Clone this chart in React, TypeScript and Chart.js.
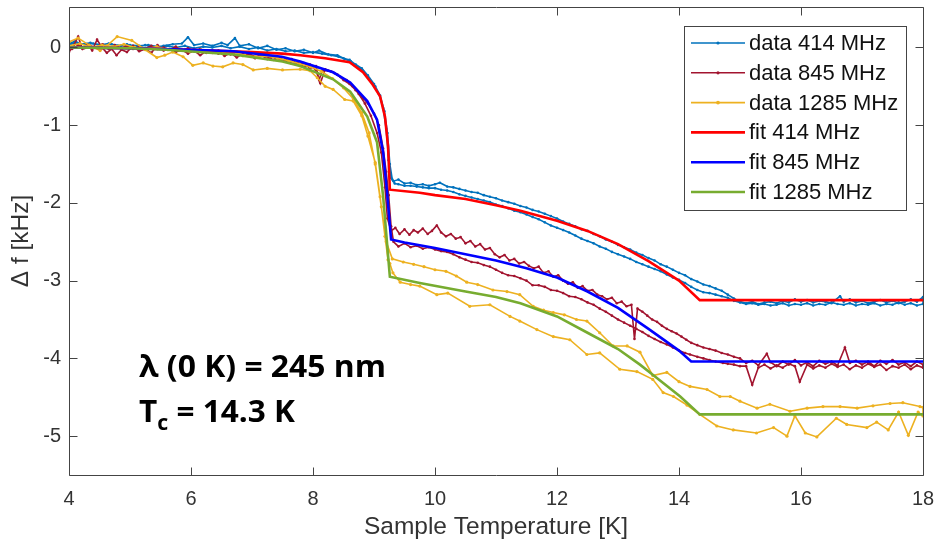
import React, { useEffect, useRef } from 'react';
import { Chart, registerables } from 'chart.js';

Chart.register(...registerables);

// ---------- axes ----------
const xTickValues = [4, 6, 8, 10, 12, 14, 16, 18];
const yTickValues = [-5, -4, -3, -2, -1, 0];
const xTitle = 'Sample Temperature [K]';
const yTitle = 'Δ f [kHz]';
const seriesLabels = ['data 414 MHz', 'data 845 MHz', 'data 1285 MHz', 'fit 414 MHz', 'fit 845 MHz', 'fit 1285 MHz'];
const noteLine1 = 'λ (0 K) = 245 nm';
const noteLine2 = ['T', 'c', ' = 14.3 K'];

// ---------- data 414 MHz (two sweeps) [T (K), Δf (kHz)] ----------
const data414Up: number[][] = [[4.0,0.05],[4.1,0.08],[4.2,0.04],[4.35,0.06],[4.5,0.03],[4.65,0.05],[4.8,0.02],[4.95,0.04],[5.1,0.01],[5.25,0.03],[5.4,0.0],[5.55,0.02],[5.7,0.04],[5.85,0.05],[5.95,0.13],[6.05,0.03],[6.2,0.05],[6.35,0.02],[6.5,0.06],[6.6,0.03],[6.72,0.12],[6.8,0.02],[6.95,0.04],[7.1,-0.01],[7.25,0.02],[7.4,-0.03],[7.55,-0.01],[7.7,-0.05],[7.85,-0.03],[8.0,-0.07],[8.1,-0.04],[8.25,-0.09],[8.4,-0.1],[8.5,-0.14],[8.6,-0.16],[8.7,-0.22],[8.8,-0.27],[8.9,-0.36],[9.0,-0.47],[9.08,-0.6],[9.15,-0.78],[9.2,-1.05],[9.24,-1.45],[9.28,-1.68],[9.32,-1.72],[9.4,-1.7],[9.5,-1.75],[9.6,-1.74],[9.7,-1.77],[9.8,-1.76],[9.9,-1.78],[10.0,-1.76],[10.08,-1.74],[10.2,-1.79],[10.3,-1.8],[10.4,-1.82],[10.5,-1.84],[10.6,-1.86],[10.7,-1.87],[10.8,-1.9],[10.9,-1.92],[11.0,-1.94],[11.1,-1.97],[11.2,-1.99],[11.3,-2.01],[11.4,-2.04],[11.5,-2.06],[11.6,-2.09],[11.7,-2.11],[11.8,-2.14],[11.9,-2.17],[12.0,-2.2],[12.1,-2.24],[12.2,-2.27],[12.3,-2.3],[12.4,-2.34],[12.5,-2.36],[12.6,-2.4],[12.7,-2.43],[12.8,-2.47],[12.9,-2.5],[13.0,-2.54],[13.1,-2.57],[13.2,-2.6],[13.3,-2.64],[13.4,-2.67],[13.5,-2.71],[13.6,-2.74],[13.7,-2.79],[13.8,-2.82],[13.9,-2.86],[14.0,-2.9],[14.1,-2.93],[14.2,-2.98],[14.3,-3.01],[14.4,-3.05],[14.5,-3.07],[14.6,-3.1],[14.7,-3.13],[14.8,-3.18],[14.9,-3.23],[15.0,-3.27],[15.1,-3.29],[15.2,-3.27],[15.3,-3.3],[15.4,-3.28],[15.5,-3.27],[15.6,-3.29],[15.7,-3.26],[15.8,-3.28],[15.9,-3.24],[16.0,-3.27],[16.1,-3.25],[16.2,-3.28],[16.3,-3.26],[16.4,-3.27],[16.5,-3.29],[16.64,-3.2],[16.7,-3.27],[16.8,-3.24],[16.9,-3.28],[17.0,-3.26],[17.1,-3.29],[17.2,-3.27],[17.3,-3.25],[17.4,-3.28],[17.5,-3.26],[17.6,-3.29],[17.7,-3.27],[17.8,-3.24],[17.9,-3.27],[18.0,-3.21]];
const data414Down: number[][] = [[18.0,-3.3],[17.9,-3.32],[17.8,-3.29],[17.7,-3.31],[17.6,-3.28],[17.5,-3.31],[17.4,-3.3],[17.3,-3.32],[17.2,-3.29],[17.1,-3.31],[17.0,-3.3],[16.9,-3.32],[16.8,-3.29],[16.7,-3.31],[16.6,-3.3],[16.5,-3.28],[16.4,-3.31],[16.3,-3.3],[16.2,-3.32],[16.1,-3.29],[16.0,-3.31],[15.9,-3.3],[15.8,-3.32],[15.7,-3.29],[15.6,-3.31],[15.5,-3.32],[15.4,-3.3],[15.3,-3.31],[15.2,-3.29],[15.1,-3.3],[15.0,-3.28],[14.9,-3.26],[14.8,-3.22],[14.7,-3.2],[14.6,-3.18],[14.5,-3.16],[14.4,-3.15],[14.3,-3.12],[14.2,-3.08],[14.1,-3.03],[14.0,-2.99],[13.9,-2.96],[13.8,-2.92],[13.7,-2.88],[13.6,-2.85],[13.5,-2.82],[13.4,-2.79],[13.3,-2.76],[13.2,-2.72],[13.1,-2.69],[13.0,-2.66],[12.9,-2.63],[12.8,-2.59],[12.7,-2.56],[12.6,-2.52],[12.5,-2.49],[12.4,-2.46],[12.3,-2.42],[12.2,-2.38],[12.1,-2.35],[12.0,-2.32],[11.9,-2.29],[11.8,-2.25],[11.7,-2.21],[11.6,-2.18],[11.5,-2.15],[11.4,-2.12],[11.3,-2.1],[11.2,-2.07],[11.1,-2.04],[11.0,-2.02],[10.9,-1.99],[10.8,-1.97],[10.7,-1.95],[10.6,-1.93],[10.5,-1.91],[10.4,-1.89],[10.3,-1.86],[10.2,-1.84],[10.1,-1.83],[10.0,-1.81],[9.9,-1.81],[9.8,-1.8],[9.7,-1.79],[9.6,-1.78],[9.5,-1.78],[9.4,-1.76],[9.34,-1.75],[9.3,-1.7],[9.26,-1.5],[9.22,-1.1],[9.17,-0.82],[9.1,-0.62],[9.02,-0.5],[8.92,-0.4],[8.82,-0.3],[8.72,-0.24],[8.62,-0.18],[8.52,-0.15],[8.42,-0.12],[8.3,-0.1],[8.15,-0.08],[8.0,-0.06],[7.85,-0.07],[7.7,-0.04],[7.55,-0.05],[7.4,-0.02],[7.25,-0.04],[7.1,0.0],[6.95,-0.02],[6.8,0.01],[6.65,-0.01],[6.5,0.02],[6.35,0.0],[6.2,0.01],[6.05,-0.01],[5.9,0.02],[5.75,0.0],[5.6,0.02],[5.45,0.01],[5.3,0.03],[5.15,0.02],[5.0,0.03],[4.85,0.02],[4.7,0.04],[4.55,0.03],[4.4,0.05],[4.25,0.04],[4.1,0.06],[4.0,0.03]];

// ---------- data 845 MHz ----------
const data845Up: number[][] = [[4.0,-0.06],[4.08,0.03],[4.15,0.14],[4.22,-0.02],[4.3,0.04],[4.38,-0.04],[4.46,0.1],[4.54,0.0],[4.62,-0.07],[4.7,-0.02],[4.78,-0.1],[4.86,-0.03],[4.95,-0.06],[5.05,0.02],[5.15,-0.05],[5.25,-0.02],[5.35,-0.07],[5.45,0.03],[5.55,-0.04],[5.65,-0.02],[5.75,-0.06],[5.85,-0.03],[5.95,-0.08],[6.05,-0.04],[6.15,-0.1],[6.25,-0.05],[6.35,-0.07],[6.45,-0.04],[6.55,-0.11],[6.65,-0.07],[6.75,-0.13],[6.85,-0.08],[6.95,-0.1],[7.05,-0.14],[7.15,-0.09],[7.25,-0.12],[7.35,-0.16],[7.45,-0.13],[7.55,-0.18],[7.65,-0.15],[7.75,-0.22],[7.85,-0.2],[7.95,-0.27],[8.05,-0.24],[8.1,-0.42],[8.15,-0.3],[8.25,-0.3],[8.35,-0.33],[8.45,-0.38],[8.55,-0.42],[8.65,-0.5],[8.75,-0.6],[8.85,-0.72],[8.95,-0.88],[9.05,-1.1],[9.12,-1.35],[9.18,-1.8],[9.22,-2.2],[9.28,-2.36],[9.35,-2.32],[9.42,-2.4],[9.5,-2.34],[9.58,-2.41],[9.65,-2.35],[9.72,-2.38],[9.8,-2.33],[9.88,-2.4],[9.95,-2.36],[10.03,-2.29],[10.1,-2.38],[10.18,-2.43],[10.26,-2.4],[10.34,-2.46],[10.42,-2.44],[10.5,-2.52],[10.58,-2.49],[10.66,-2.56],[10.74,-2.53],[10.82,-2.6],[10.9,-2.58],[10.98,-2.66],[11.06,-2.7],[11.14,-2.67],[11.22,-2.74],[11.3,-2.72],[11.38,-2.78],[11.46,-2.76],[11.54,-2.81],[11.62,-2.84],[11.7,-2.82],[11.78,-2.9],[11.86,-2.88],[11.94,-2.95],[12.02,-2.93],[12.1,-3.0],[12.18,-3.04],[12.26,-3.02],[12.34,-3.09],[12.42,-3.07],[12.5,-3.13],[12.58,-3.12],[12.66,-3.18],[12.74,-3.2],[12.82,-3.24],[12.9,-3.22],[12.98,-3.29],[13.06,-3.27],[13.14,-3.33],[13.22,-3.31],[13.27,-3.75],[13.32,-3.36],[13.4,-3.4],[13.48,-3.45],[13.56,-3.5],[13.64,-3.53],[13.72,-3.58],[13.8,-3.62],[13.88,-3.65],[13.96,-3.68],[14.04,-3.72],[14.12,-3.76],[14.2,-3.8],[14.3,-3.83],[14.4,-3.86],[14.5,-3.88],[14.6,-3.9],[14.7,-3.93],[14.8,-3.95],[14.9,-3.98],[15.0,-4.0],[15.1,-4.06],[15.2,-4.03],[15.3,-4.09],[15.44,-3.94],[15.5,-4.05],[15.6,-4.1],[15.7,-4.04],[15.8,-4.08],[15.9,-4.02],[16.0,-4.09],[16.1,-4.05],[16.2,-4.1],[16.3,-4.03],[16.4,-4.07],[16.5,-4.04],[16.6,-4.09],[16.72,-3.86],[16.8,-4.06],[16.9,-4.03],[17.0,-4.08],[17.1,-4.04],[17.2,-4.1],[17.3,-4.03],[17.4,-4.07],[17.5,-4.02],[17.6,-4.08],[17.7,-4.05],[17.8,-4.1],[17.9,-4.04],[18.0,-4.08]];
const data845Down: number[][] = [[18.0,-4.12],[17.9,-4.09],[17.8,-4.14],[17.7,-4.08],[17.6,-4.12],[17.5,-4.1],[17.4,-4.15],[17.3,-4.08],[17.2,-4.11],[17.1,-4.07],[17.0,-4.12],[16.9,-4.09],[16.8,-4.14],[16.7,-4.08],[16.6,-4.11],[16.5,-4.07],[16.4,-4.12],[16.3,-4.09],[16.2,-4.13],[16.1,-4.08],[15.98,-4.3],[15.9,-4.1],[15.8,-4.07],[15.7,-4.12],[15.6,-4.09],[15.5,-4.13],[15.4,-4.08],[15.3,-4.12],[15.2,-4.34],[15.1,-4.1],[15.0,-4.1],[14.9,-4.08],[14.8,-4.07],[14.72,-4.06],[14.6,-4.04],[14.5,-4.02],[14.4,-4.0],[14.3,-3.98],[14.18,-3.95],[14.1,-3.93],[14.0,-3.9],[13.9,-3.86],[13.8,-3.82],[13.7,-3.79],[13.6,-3.75],[13.5,-3.71],[13.4,-3.66],[13.3,-3.62],[13.2,-3.58],[13.1,-3.54],[13.0,-3.5],[12.9,-3.45],[12.8,-3.4],[12.7,-3.36],[12.6,-3.31],[12.5,-3.28],[12.4,-3.24],[12.3,-3.21],[12.2,-3.2],[12.1,-3.16],[12.0,-3.13],[11.9,-3.12],[11.8,-3.08],[11.7,-3.06],[11.6,-3.06],[11.5,-3.0],[11.4,-2.97],[11.3,-2.94],[11.2,-2.93],[11.1,-2.9],[11.0,-2.86],[10.9,-2.82],[10.8,-2.8],[10.7,-2.77],[10.6,-2.76],[10.5,-2.73],[10.4,-2.7],[10.3,-2.66],[10.2,-2.63],[10.1,-2.62],[10.0,-2.6],[9.9,-2.57],[9.8,-2.59],[9.7,-2.55],[9.6,-2.57],[9.5,-2.52],[9.4,-2.56],[9.32,-2.5],[9.28,-2.3],[9.24,-1.9],[9.2,-1.6],[9.15,-1.3],[9.08,-1.0],[9.0,-0.85],[8.9,-0.72],[8.8,-0.63],[8.7,-0.55],[8.6,-0.47],[8.5,-0.42],[8.4,-0.35],[8.3,-0.31],[8.2,-0.28],[8.12,-0.46],[8.05,-0.3],[7.95,-0.22],[7.85,-0.25],[7.75,-0.19],[7.65,-0.21],[7.55,-0.15],[7.45,-0.17],[7.35,-0.12],[7.25,-0.15],[7.15,-0.1],[7.05,-0.12],[6.95,-0.08],[6.85,-0.11],[6.75,-0.06],[6.65,-0.09],[6.55,-0.05],[6.45,-0.08],[6.35,-0.04],[6.25,-0.07],[6.15,-0.02],[6.05,-0.05],[5.95,-0.01],[5.85,-0.04],[5.75,0.01],[5.65,-0.03],[5.55,0.0],[5.45,-0.02],[5.35,0.02],[5.25,-0.01],[5.15,0.01],[5.05,-0.02],[4.95,0.02],[4.85,-0.01],[4.75,0.03],[4.65,-0.02],[4.55,0.04],[4.45,0.0],[4.35,0.02],[4.25,-0.01],[4.15,0.03],[4.05,-0.02],[4.0,0.0]];

// ---------- data 1285 MHz ----------
const data1285Up: number[][] = [[4.0,0.02],[4.18,0.05],[4.36,0.0],[4.54,0.03],[4.72,0.01],[4.9,0.04],[5.08,0.0],[5.26,-0.02],[5.44,0.01],[5.62,-0.03],[5.8,-0.02],[5.98,-0.05],[6.16,-0.03],[6.34,-0.06],[6.52,-0.08],[6.7,-0.06],[6.88,-0.1],[7.06,-0.12],[7.24,-0.11],[7.42,-0.14],[7.6,-0.17],[7.78,-0.21],[7.96,-0.25],[8.14,-0.31],[8.32,-0.4],[8.5,-0.52],[8.66,-0.66],[8.8,-0.84],[8.92,-1.1],[9.02,-1.5],[9.12,-2.05],[9.2,-2.5],[9.3,-2.72],[9.48,-2.76],[9.65,-2.79],[9.82,-2.82],[10.0,-2.86],[10.18,-2.88],[10.35,-2.94],[10.52,-3.02],[10.7,-3.05],[10.95,-3.12],[11.18,-3.14],[11.39,-3.18],[11.61,-3.33],[11.78,-3.38],[11.94,-3.41],[12.12,-3.44],[12.32,-3.5],[12.49,-3.52],[12.7,-3.67],[12.92,-3.84],[13.15,-3.84],[13.36,-3.92],[13.57,-4.22],[13.8,-4.18],[14.0,-4.3],[14.18,-4.36],[14.46,-4.4],[14.67,-4.49],[14.84,-4.49],[15.0,-4.55],[15.28,-4.64],[15.49,-4.59],[15.82,-4.68],[16.1,-4.64],[16.36,-4.62],[16.64,-4.62],[16.92,-4.64],[17.18,-4.61],[17.46,-4.58],[17.67,-4.57],[17.95,-4.62],[18.0,-4.63]];
const data1285Down: number[][] = [[18.0,-4.74],[17.92,-4.69],[17.76,-4.99],[17.6,-4.69],[17.43,-4.92],[17.24,-4.82],[17.08,-4.89],[16.75,-4.85],[16.58,-4.77],[16.26,-5.01],[16.07,-4.96],[15.9,-4.74],[15.77,-5.0],[15.55,-4.89],[15.27,-4.96],[14.89,-4.92],[14.62,-4.87],[14.34,-4.72],[14.13,-4.6],[13.91,-4.49],[13.74,-4.44],[13.57,-4.27],[13.31,-4.17],[13.03,-4.14],[12.7,-3.93],[12.49,-3.95],[12.21,-3.76],[11.94,-3.72],[11.67,-3.63],[11.39,-3.52],[11.23,-3.46],[10.9,-3.31],[10.57,-3.33],[10.21,-3.16],[10.03,-3.18],[9.75,-3.07],[9.6,-3.05],[9.43,-3.02],[9.31,-2.9],[9.26,-2.78],[9.23,-2.73],[9.18,-2.43],[9.1,-1.92],[9.02,-1.48],[8.9,-1.14],[8.8,-0.88],[8.66,-0.69],[8.52,-0.67],[8.33,-0.54],[8.2,-0.5],[8.07,-0.39],[7.95,-0.3],[7.79,-0.28],[7.5,-0.29],[7.25,-0.27],[7.02,-0.29],[6.85,-0.22],[6.69,-0.2],[6.52,-0.25],[6.36,-0.24],[6.2,-0.2],[6.03,-0.23],[5.87,-0.12],[5.7,-0.06],[5.57,-0.1],[5.44,-0.13],[5.25,-0.03],[5.03,0.09],[4.79,0.14],[4.62,0.02],[4.51,-0.04],[4.33,0.03],[4.15,0.12],[4.0,0.07]];

// ---------- fits ----------
const fit414: number[][] = [[4,0],[5,-0.01],[6,-0.03],[7,-0.06],[7.5,-0.08],[7.79,-0.1],[8.2,-0.14],[8.6,-0.19],[8.82,-0.32],[8.98,-0.48],[9.1,-0.63],[9.18,-0.89],[9.23,-1.27],[9.26,-1.83],[9.75,-1.87],[10,-1.9],[10.5,-1.95],[11,-2.03],[11.4,-2.1],[12,-2.23],[12.5,-2.36],[13,-2.53],[13.5,-2.75],[14,-3.0],[14.34,-3.25],[18,-3.25]];
const fit845: number[][] = [[4,0],[5,-0.01],[6,-0.03],[6.7,-0.05],[7.49,-0.12],[7.79,-0.18],[8.33,-0.32],[8.61,-0.45],[8.89,-0.69],[9.05,-0.93],[9.15,-1.35],[9.21,-1.83],[9.28,-2.47],[9.5,-2.51],[10,-2.58],[10.5,-2.66],[11,-2.74],[11.5,-2.84],[12,-2.96],[12.5,-3.14],[13,-3.35],[13.5,-3.62],[14,-3.9],[14.2,-4.04],[18,-4.04]];
const fit1285: number[][] = [[4,0],[5,-0.01],[5.6,-0.03],[6.7,-0.09],[7.5,-0.18],[7.79,-0.24],[8.33,-0.41],[8.61,-0.57],[8.89,-0.89],[9.05,-1.22],[9.15,-1.92],[9.26,-2.95],[9.75,-3.03],[10.5,-3.14],[11,-3.21],[11.4,-3.29],[12,-3.46],[12.5,-3.67],[13,-3.88],[13.36,-4.08],[13.57,-4.21],[14.02,-4.49],[14.34,-4.72],[18,-4.72]];

const COLORS = ['#0072BD', '#A2142F', '#EDB120', '#FF0000', '#0000FF', '#77AC30'];
const AXIS_COLOR = '#333333';
const FONT = '"Liberation Sans", Arial, sans-serif';

const toPoints = (...branches: number[][][]) => branches.flat().map(([x, y]) => ({ x, y }));

const zeroPad = (s: any) => {
  s.paddingLeft = 0;
  s.paddingRight = 0;
  s.paddingTop = 0;
  s.paddingBottom = 0;
};

const framePlugin = {
  id: 'frame',
  afterDatasetsDraw(chart: any) {
    const { ctx, chartArea: a, scales } = chart;
    const xs = scales.x, ys = scales.y;
    const L = Math.round(a.left) + 0.5, R = Math.round(a.right) + 0.5;
    const T = Math.round(a.top) + 0.5, B = Math.round(a.bottom) + 0.5;
    const tl = 8;
    ctx.save();
    ctx.strokeStyle = '#444';
    ctx.lineWidth = 1;
    ctx.beginPath();
    ctx.rect(L, T, R - L, B - T);
    for (const v of xTickValues) {
      const p = Math.round(xs.getPixelForValue(v)) + 0.5;
      ctx.moveTo(p, B); ctx.lineTo(p, B - tl);
      ctx.moveTo(p, T); ctx.lineTo(p, T + tl);
    }
    for (const v of yTickValues) {
      const p = Math.round(ys.getPixelForValue(v)) + 0.5;
      ctx.moveTo(L, p); ctx.lineTo(L + tl, p);
      ctx.moveTo(R, p); ctx.lineTo(R - tl, p);
    }
    ctx.stroke();
    ctx.restore();
  },
};

const legendPlugin = {
  id: 'boxLegend',
  afterDraw(chart: any) {
    const { ctx } = chart;
    const left = 684, top = 26, right = 906, bottom = 210;
    ctx.save();
    ctx.fillStyle = '#ffffff';
    ctx.fillRect(left, top, right - left, bottom - top);
    ctx.strokeStyle = '#444';
    ctx.lineWidth = 1;
    ctx.strokeRect(left + 0.5, top + 0.5, right - left, bottom - top);
    ctx.font = `22px ${FONT}`;
    ctx.textBaseline = 'middle';
    ctx.textAlign = 'left';
    chart.data.datasets.forEach((ds: any, i: number) => {
      const y = top + 17 + i * 29.8;
      ctx.strokeStyle = ds.borderColor;
      ctx.lineWidth = ds.borderWidth;
      ctx.beginPath();
      ctx.moveTo(691, y);
      ctx.lineTo(745, y);
      ctx.stroke();
      if (ds.pointRadius > 0) {
        ctx.fillStyle = ds.borderColor;
        ctx.beginPath();
        ctx.arc(718, y, ds.pointRadius + 0.3, 0, Math.PI * 2);
        ctx.fill();
      }
      ctx.fillStyle = '#111';
      ctx.fillText(ds.label, 749, y + 1);
    });
    ctx.restore();
  },
};

const notePlugin = {
  id: 'note',
  afterDraw(chart: any) {
    const { ctx } = chart;
    const big = 'bold 31px "Open Sans", sans-serif';
    const small = 'bold 21px "Open Sans", sans-serif';
    ctx.save();
    ctx.fillStyle = '#000';
    ctx.textBaseline = 'alphabetic';
    ctx.textAlign = 'left';
    ctx.font = big;
    const w1 = ctx.measureText(noteLine1).width;
    ctx.save();
    ctx.translate(139, 377);
    ctx.scale(247 / w1, 1);
    ctx.fillText(noteLine1, 0, 0);
    ctx.restore();
    ctx.font = big;
    const wT = ctx.measureText(noteLine2[0]).width;
    const wR = ctx.measureText(noteLine2[2]).width;
    ctx.font = small;
    const wC = ctx.measureText(noteLine2[1]).width;
    const total = wT + wC + wR;
    ctx.save();
    ctx.translate(139, 422);
    ctx.scale(156 / total, 1);
    ctx.font = big;
    ctx.fillText(noteLine2[0], 0, 0);
    ctx.font = small;
    ctx.fillText(noteLine2[1], wT, 8);
    ctx.font = big;
    ctx.fillText(noteLine2[2], wT + wC, 0);
    ctx.restore();
    ctx.restore();
  },
};

export default function App() {
  const ref = useRef<HTMLCanvasElement | null>(null);

  useEffect(() => {
    document.body.style.margin = '0';
    const canvas = ref.current;
    if (!canvas) return;
    const series = [
      toPoints(data414Up, data414Down),
      toPoints(data845Up, data845Down),
      toPoints(data1285Up, data1285Down),
      toPoints(fit414),
      toPoints(fit845),
      toPoints(fit1285),
    ];
    const datasets = series.map((data, i) => {
      const isData = i < 3;
      return {
        label: seriesLabels[i],
        data,
        borderColor: COLORS[i],
        backgroundColor: COLORS[i],
        pointBackgroundColor: COLORS[i],
        borderWidth: isData ? 1.6 : 2.6,
        pointRadius: isData ? (i === 2 ? 1.6 : 1.3) : 0,
        pointBorderWidth: 0,
        pointHoverRadius: 0,
        tension: 0,
        fill: false,
        order: 5 - i,
      };
    });
    const chart = new Chart(canvas, {
      type: 'line',
      data: { datasets },
      options: {
        animation: false,
        responsive: false,
        devicePixelRatio: 1,
        events: [],
        layout: { padding: { top: 7, right: 11, left: 0, bottom: 0 } },
        plugins: { legend: { display: false }, tooltip: { enabled: false } },
        scales: {
          x: {
            type: 'linear',
            min: 4,
            max: 18,
            afterBuildTicks: (s: any) => { s.ticks = xTickValues.map((v) => ({ value: v })); },
            afterFit: (s: any) => { s.height = 71; zeroPad(s); },
            grid: { display: false, drawTicks: false },
            border: { display: false },
            ticks: { color: AXIS_COLOR, font: { family: FONT, size: 20 }, padding: 12, maxRotation: 0, autoSkip: false, callback: (v: any) => String(v) },
            title: { display: true, text: xTitle, color: AXIS_COLOR, font: { family: FONT, size: 24.5 }, padding: { top: 5, bottom: 4 } },
          },
          y: {
            type: 'linear',
            min: -5.5,
            max: 0.52,
            afterBuildTicks: (s: any) => { s.ticks = yTickValues.map((v) => ({ value: v })); },
            afterFit: (s: any) => { s.width = 69; zeroPad(s); },
            grid: { display: false, drawTicks: false },
            border: { display: false },
            ticks: { color: AXIS_COLOR, font: { family: FONT, size: 20 }, padding: 8, autoSkip: false, callback: (v: any) => String(v) },
            title: { display: true, text: yTitle, color: AXIS_COLOR, font: { family: FONT, size: 24.5 }, padding: { top: 7, bottom: 7 } },
          },
        },
      },
      plugins: [framePlugin, legendPlugin, notePlugin],
    } as any);
    return () => chart.destroy();
  }, []);

  return (
    <div style={{ width: 934, height: 546, background: '#fff' }}>
      <canvas ref={ref} width={934} height={546} style={{ display: 'block' }} />
    </div>
  );
}
